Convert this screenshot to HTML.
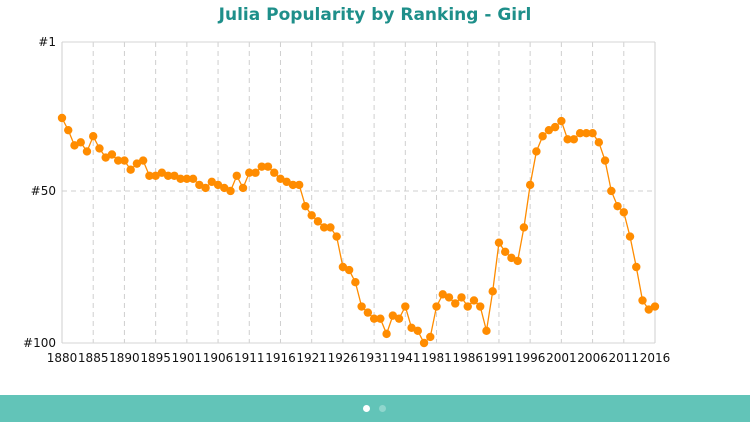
<!DOCTYPE html>
<html><head><meta charset="utf-8"><style>
body{margin:0;width:750px;height:422px;background:#fff;overflow:hidden;font-family:"DejaVu Sans","Liberation Sans",sans-serif;}
#title{position:absolute;top:5px;left:0;width:750px;text-align:center;color:#1e8f8a;font-weight:bold;font-size:17px;}
#band{position:absolute;left:0;top:395px;width:750px;height:27px;background:#62c4b8;}
.dot{position:absolute;top:405px;width:7px;height:7px;border-radius:50%;}
</style></head><body>
<div id="title">Julia Popularity by Ranking - Girl</div>
<svg id="chart" width="750" height="395" style="position:absolute;left:0;top:0"></svg>
<div id="band"></div>
<div class="dot" style="left:363px;background:#fff"></div>
<div class="dot" style="left:379px;background:#8fd6cd"></div>
<script>
const years=[1880,1881,1882,1883,1884,1885,1886,1887,1888,1889,1890,1891,1892,1893,1894,1895,1896,1897,1898,1899,1901,1902,1903,1904,1905,1906,1907,1908,1909,1910,1911,1912,1913,1914,1915,1916,1917,1918,1919,1920,1921,1922,1923,1924,1925,1926,1927,1928,1929,1930,1931,1932,1933,1934,1935,1941,1942,1943,1944,1945,1981,1982,1983,1984,1985,1986,1987,1988,1989,1990,1991,1992,1993,1994,1995,1996,1997,1998,1999,2000,2001,2002,2003,2004,2005,2006,2007,2008,2009,2010,2011,2012,2013,2014,2015,2016];
const ranks=[26,30,35,34,37,32,36,39,38,40,40,43,41,40,45,45,44,45,45,46,46,46,48,49,47,48,49,50,45,49,44,44,42,42,44,46,47,48,48,55,58,60,62,62,65,75,76,80,88,90,92,92,97,91,92,88,95,96,100,98,88,84,85,87,85,88,86,88,96,83,67,70,72,73,62,48,37,32,30,29,27,33,33,31,31,31,34,40,50,55,57,65,75,86,89,88];
const yTicks=[1,50,100];
const labelEvery=5;
const NS="http://www.w3.org/2000/svg";
const svg=document.getElementById('chart');
const X0=62,X1=655,Y0=42,Y1=343;
const x=i=>X0+i*(X1-X0)/(years.length-1);
const y=r=>Y0+(r-1)*(Y1-Y0)/99;
function mk(t,a){const e=document.createElementNS(NS,t);for(const k in a)e.setAttribute(k,a[k]);svg.appendChild(e);return e;}
// vertical grid + x labels
for(let i=0;i<years.length;i++){
  if(i%labelEvery!==0 && i!==years.length-1) continue;
  const last=i===years.length-1;
  if(i>0&&!last){const g=mk('line',{x1:x(i),x2:x(i),y1:Y0,y2:Y1,stroke:'#cfcfcf','stroke-dasharray':'5,4'});
  
  }
  const t=mk('text',{x:last?X1:x(i),y:362,'text-anchor':'middle','font-size':'12',fill:'#111'});
  t.textContent=years[i];
  
  
}
for(const r of yTicks){
  const mid=r!==1&&r!==100;
  const g=mk('line',{x1:X0,x2:X1,y1:y(r),y2:y(r),stroke:mid?'#cfcfcf':'#d6d6d6'});
  if(mid)g.setAttribute('stroke-dasharray','5,4');
  
  
  const t=mk('text',{x:56,y:y(r)+4,'text-anchor':'end','font-size':'12',fill:'#111'});
  t.textContent='#'+r;
  
  
}
const la=mk('line',{x1:X0,x2:X0,y1:Y0,y2:Y1,stroke:'#cfcfcf'});


const ra=mk('line',{x1:X1,x2:X1,y1:Y0,y2:Y1,stroke:'#cfcfcf'});


const pl=mk('polyline',{points:ranks.map((r,i)=>x(i)+','+y(r)).join(' '),fill:'none',stroke:'#ff8c00','stroke-width':'1.3'});


ranks.forEach((r,i)=>{
  const c=mk('circle',{cx:x(i),cy:y(r),r:4.2,fill:'#ff8c00'});
  
  
});
</script>
</body></html>
